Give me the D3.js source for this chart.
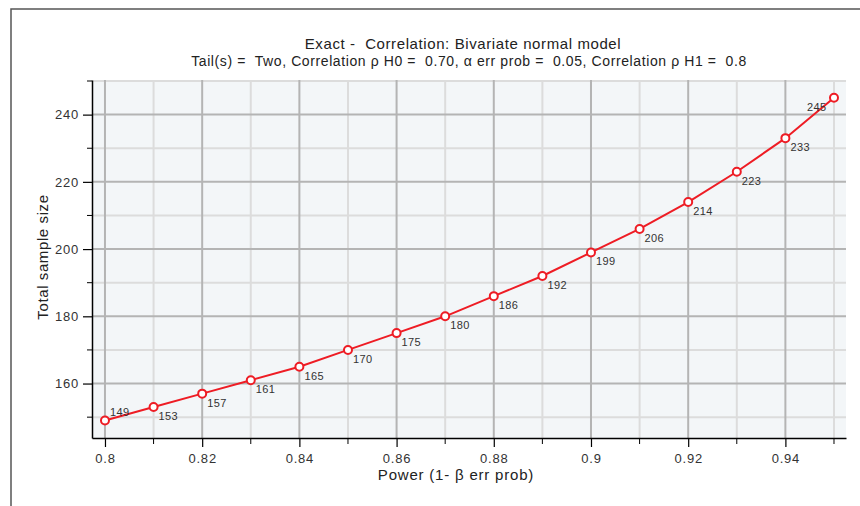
<!DOCTYPE html>
<html>
<head>
<meta charset="utf-8">
<script src="https://cdn.jsdelivr.net/npm/d3@7"></script>
<style>
  body { margin: 0; background: #fff; }
  svg text { font-family: "Liberation Sans", Arial, sans-serif; white-space: pre; }
</style>
</head>
<body>
<script>
const power = [0.80, 0.81, 0.82, 0.83, 0.84, 0.85, 0.86, 0.87, 0.88, 0.89, 0.90, 0.91, 0.92, 0.93, 0.94, 0.95];
const sampleSize = [149, 153, 157, 161, 165, 170, 175, 180, 186, 192, 199, 206, 214, 223, 233, 245];
const xMajorTicks = [0.8, 0.82, 0.84, 0.86, 0.88, 0.9, 0.92, 0.94];
const xMinorTicks = [0.81, 0.83, 0.85, 0.87, 0.89, 0.91, 0.93, 0.95];
const yMajorTicks = [160, 180, 200, 220, 240];
const yMinorTicks = [150, 170, 190, 210, 230, 250];

const svgWidth = 860;
const svgHeight = 506;
const plot = { left: 92, right: 846, top: 80, bottom: 438 };

const svg = d3.select("body").append("svg")
  .attr("width", svgWidth)
  .attr("height", svgHeight);

// frame
svg.append("path")
  .attr("d", `M11,506 V9 H860`)
  .attr("fill", "none")
  .attr("stroke", "#555")
  .attr("stroke-width", 1.5);

// scales
const xScale = d3.scaleLinear()
  .domain([0.79733, 0.95247])
  .range([plot.left, plot.right]);

const yScale = d3.scaleLinear()
  .domain([143.8, 250.3])
  .range([plot.bottom, plot.top]);

// plot background
svg.append("rect")
  .attr("x", plot.left)
  .attr("y", plot.top)
  .attr("width", plot.right - plot.left)
  .attr("height", plot.bottom - plot.top)
  .attr("fill", "#f3f6f8");

// grid
const grid = svg.append("g");
grid.selectAll(".vminor").data(xMinorTicks).enter().append("line")
  .attr("x1", d => xScale(d)).attr("x2", d => xScale(d))
  .attr("y1", plot.top).attr("y2", plot.bottom)
  .attr("stroke", "#dcdcdc").attr("stroke-width", 2);
grid.selectAll(".hminor").data(yMinorTicks).enter().append("line")
  .attr("x1", plot.left).attr("x2", plot.right)
  .attr("y1", d => yScale(d)).attr("y2", d => yScale(d))
  .attr("stroke", "#dcdcdc").attr("stroke-width", 2);
grid.selectAll(".vmajor").data(xMajorTicks).enter().append("line")
  .attr("x1", d => xScale(d)).attr("x2", d => xScale(d))
  .attr("y1", plot.top).attr("y2", plot.bottom)
  .attr("stroke", "#b4b4b4").attr("stroke-width", 2);
grid.selectAll(".hmajor").data(yMajorTicks).enter().append("line")
  .attr("x1", plot.left).attr("x2", plot.right)
  .attr("y1", d => yScale(d)).attr("y2", d => yScale(d))
  .attr("stroke", "#b4b4b4").attr("stroke-width", 2);

// axes
const xAxis = svg.append("g")
  .attr("transform", `translate(0,${plot.bottom})`)
  .call(d3.axisBottom(xScale).tickValues(xMajorTicks).tickSize(9).tickPadding(7).tickSizeOuter(0)
    .tickFormat(d3.format("")));
xAxis.append("g").selectAll("line").data(xMinorTicks).enter().append("line")
  .attr("x1", d => xScale(d)).attr("x2", d => xScale(d))
  .attr("y1", 0).attr("y2", 6).attr("stroke", "#000");

const yAxis = svg.append("g")
  .attr("transform", `translate(${plot.left},0)`)
  .call(d3.axisLeft(yScale).tickValues(yMajorTicks).tickSize(9).tickPadding(4).tickSizeOuter(0));
yAxis.append("g").selectAll("line").data(yMinorTicks).enter().append("line")
  .attr("x1", -5).attr("x2", 0)
  .attr("y1", d => yScale(d)).attr("y2", d => yScale(d)).attr("stroke", "#000");

svg.selectAll(".domain").attr("stroke", "#000").attr("stroke-width", 1.5);
svg.selectAll(".tick line").attr("stroke", "#000").attr("stroke-width", 1.2);
svg.selectAll(".tick text")
  .attr("font-family", "Liberation Sans, Arial, sans-serif")
  .attr("font-size", 13)
  .attr("letter-spacing", 0.8)
  .attr("fill", "#333");

// line + markers
const points = power.map((p, i) => ({ p: p, n: sampleSize[i] }));

svg.append("path")
  .datum(points)
  .attr("d", d3.line().x(d => xScale(d.p)).y(d => yScale(d.n)))
  .attr("fill", "none")
  .attr("stroke", "#ee1c24")
  .attr("stroke-width", 2);

svg.selectAll(".pt").data(points).enter().append("circle")
  .attr("cx", d => xScale(d.p))
  .attr("cy", d => yScale(d.n))
  .attr("r", 4)
  .attr("fill", "#fff")
  .attr("stroke", "#ee1c24")
  .attr("stroke-width", 2);

// point labels
svg.selectAll(".lbl").data(points).enter().append("text")
  .attr("x", (d, i) => xScale(d.p) + (i === points.length - 1 ? -27 : 5))
  .attr("y", (d, i) => yScale(d.n) + (i === 0 ? -5 : 13))
  .attr("font-size", 11)
  .attr("letter-spacing", 0.4)
  .attr("fill", "#333")
  .text(d => d.n);

// titles
svg.append("text")
  .attr("x", 463).attr("y", 49)
  .attr("text-anchor", "middle")
  .attr("font-size", 15)
  .attr("letter-spacing", 0.6)
  .attr("fill", "#222")
  .text("Exact -  Correlation: Bivariate normal model");

svg.append("text")
  .attr("x", 469).attr("y", 66)
  .attr("text-anchor", "middle")
  .attr("font-size", 14)
  .attr("letter-spacing", 0.6)
  .attr("fill", "#222")
  .text("Tail(s) =  Two, Correlation ρ H0 =  0.70, α err prob =  0.05, Correlation ρ H1 =  0.8");

svg.append("text")
  .attr("x", 456).attr("y", 480)
  .attr("text-anchor", "middle")
  .attr("font-size", 15)
  .attr("letter-spacing", 0.8)
  .attr("fill", "#222")
  .text("Power (1- β err prob)");

svg.append("text")
  .attr("transform", "translate(48,257) rotate(-90)")
  .attr("text-anchor", "middle")
  .attr("font-size", 15)
  .attr("letter-spacing", 0.6)
  .attr("fill", "#222")
  .text("Total sample size");
</script>
</body>
</html>
